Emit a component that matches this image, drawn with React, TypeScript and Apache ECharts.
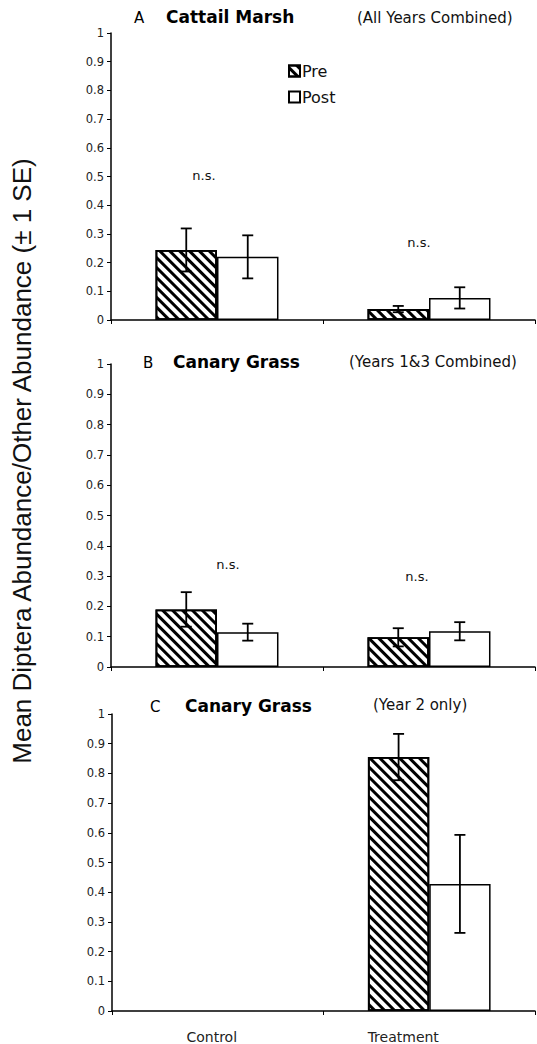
import React, { useEffect, useRef } from "react";
import * as echarts from "echarts";

const categories = ["Control", "Treatment"];

// Panel A - Cattail Marsh (All Years Combined)
const preA = [0.244, 0.038];
const preAErr = [0.075, 0.011];
const postA = [0.22, 0.077];
const postAErr = [0.075, 0.037];

// Panel B - Canary Grass (Years 1&3 Combined)
const preB = [0.19, 0.098];
const preBErr = [0.057, 0.03];
const postB = [0.115, 0.118];
const postBErr = [0.028, 0.03];

// Panel C - Canary Grass (Year 2 only)
const preC: (number | null)[] = [null, 0.855];
const preCErr: (number | null)[] = [null, 0.078];
const postC: (number | null)[] = [null, 0.428];
const postCErr: (number | null)[] = [null, 0.165];

// n.s. annotations: [category index, value height]
const nsA = [[0, 0.505], [1, 0.27]];
const nsB = [[0, 0.337], [1, 0.3]];

const panelLetters = ["A", "B", "C"];
const panelTitles = ["Cattail Marsh", "Canary Grass", "Canary Grass"];
const panelSubtitles = ["(All Years Combined)", "(Years 1&3 Combined)", "(Year 2 only)"];
const yTitle = "Mean Diptera Abundance/Other Abundance (\u00B1 1 SE)";

const FONT = "DejaVu Sans";
const BAR_FRAC = 0.29;

export default function App() {
  const ref = useRef<HTMLDivElement>(null);

  useEffect(() => {
    if (!ref.current) return;
    const chart = echarts.init(ref.current, null, { renderer: "svg" });

    const grids = [
      { left: 111, right: 2, top: 33, height: 287 },
      { left: 111, right: 2, top: 364, height: 303 },
      { left: 112, right: 2, top: 714, height: 297 },
    ];

    const hatch = {
      symbol: "rect",
      symbolSize: 1,
      dashArrayX: [1, 0],
      dashArrayY: [3, 3.2],
      rotation: Math.PI / 4,
      color: "#000",
      backgroundColor: "#fff",
    };

    const preStyle = { color: "#fff", borderColor: "#000", borderWidth: 1.8, decal: hatch };
    const postStyle = { color: "#fff", borderColor: "#000", borderWidth: 1.5 };

    const xAxes = grids.map((_, i) => ({
      type: "category",
      gridIndex: i,
      data: categories,
      boundaryGap: true,
      axisLine: { lineStyle: { color: "#000", width: 1.5 } },
      axisTick: { show: true, length: 4, lineStyle: { color: "#000" } },
      axisLabel:
        i === 2
          ? {
              show: true,
              margin: 19,
              fontFamily: FONT,
              fontSize: 14,
              color: "#222",
              formatter: (v: string) => (v === "Control" ? "{c|" + v + "}" : "{t|" + v + "}"),
              rich: {
                c: { fontFamily: FONT, fontSize: 14, color: "#222", padding: [0, 12, 0, 0] },
                t: { fontFamily: FONT, fontSize: 14, color: "#222", padding: [0, 52, 0, 0] },
              },
            }
          : { show: false },
    }));

    const yAxes = grids.map((_, i) => ({
      type: "value",
      gridIndex: i,
      min: 0,
      max: 1,
      interval: 0.1,
      splitLine: { show: false },
      axisLine: { show: true, lineStyle: { color: "#000", width: 1.5 } },
      axisTick: { show: true, length: 4, lineStyle: { color: "#000" } },
      axisLabel: { fontFamily: FONT, fontSize: 11.5, color: "#222", margin: 7 },
    }));

    const toErr = (vals: (number | null)[], errs: (number | null)[]) =>
      vals
        .map((v, i) => (v == null ? null : [i, v, errs[i]]))
        .filter((d) => d != null) as number[][];

    const errSeries = (idx: number, vals: (number | null)[], errs: (number | null)[], side: number) => ({
      type: "custom",
      xAxisIndex: idx,
      yAxisIndex: idx,
      z: 5,
      silent: true,
      data: toErr(vals, errs),
      encode: { x: 0, y: 1 },
      renderItem: (params: any, api: any) => {
        const cat = api.value(0);
        const v = api.value(1);
        const e = api.value(2);
        const band = api.size([1, 0])[0];
        const dx = (side * band * BAR_FRAC) / 2;
        const top = api.coord([cat, v + e]);
        const bot = api.coord([cat, v - e]);
        const x = top[0] + dx;
        const cap = 5.5;
        const st = { stroke: "#000", lineWidth: 1.8 };
        return {
          type: "group",
          children: [
            { type: "line", shape: { x1: x, y1: top[1], x2: x, y2: bot[1] }, style: st },
            { type: "line", shape: { x1: x - cap, y1: top[1], x2: x + cap, y2: top[1] }, style: st },
            { type: "line", shape: { x1: x - cap, y1: bot[1], x2: x + cap, y2: bot[1] }, style: st },
          ],
        };
      },
    });

    const nsOffsets = [
      [-13, -10],
      [11, -12],
    ];
    const nsSeries = (idx: number, data: number[][], offs: number[]) => ({
      type: "custom",
      xAxisIndex: idx,
      yAxisIndex: idx,
      z: 6,
      silent: true,
      data,
      encode: { x: 0, y: 1 },
      renderItem: (params: any, api: any) => {
        const p = api.coord([api.value(0), api.value(1)]);
        return {
          type: "text",
          x: p[0] + offs[params.dataIndex],
          y: p[1],
          style: {
            text: "n.s.",
            fontFamily: FONT,
            fontSize: 13,
            fill: "#111",
            align: "center",
            verticalAlign: "middle",
          },
        };
      },
    });

    const barSeries = (idx: number, name: string, data: (number | null)[], style: any) => ({
      type: "bar",
      name,
      xAxisIndex: idx,
      yAxisIndex: idx,
      data: data.map((d) => (d == null ? "-" : d)),
      barWidth: BAR_FRAC * 100 + "%",
      barGap: "0%",
      itemStyle: style,
      z: 2,
    });

    const titleTops = [8, 353, 697];
    const letterLefts = [134, 143, 150];
    const titleLefts = [166, 173, 185];
    const subLefts = [357, 349, 373];
    const subTops = [10, 354, 697];

    const titles: any[] = [];
    for (let i = 0; i < 3; i++) {
      titles.push({
        text: panelLetters[i],
        left: letterLefts[i],
        top: titleTops[i] + 2,
        padding: 0,
        textStyle: { fontFamily: FONT, fontSize: 15, fontWeight: "normal", color: "#000" },
      });
      titles.push({
        text: panelTitles[i],
        left: titleLefts[i],
        top: titleTops[i],
        padding: 0,
        textStyle: { fontFamily: FONT, fontSize: 17, fontWeight: "bold", color: "#000" },
      });
      titles.push({
        text: panelSubtitles[i],
        left: subLefts[i],
        top: subTops[i],
        padding: 0,
        textStyle: { fontFamily: FONT, fontSize: 15, fontWeight: "normal", color: "#111" },
      });
    }

    chart.setOption({
      animation: false,
      backgroundColor: "#fff",
      title: titles,
      legend: {
        data: ["Pre", "Post"],
        orient: "vertical",
        left: 288,
        top: 63,
        padding: 0,
        itemWidth: 11,
        itemHeight: 11,
        itemGap: 10,
        selectedMode: false,
        icon: "rect",
        textStyle: { fontFamily: FONT, fontSize: 16, color: "#111", padding: [0, 0, 0, -3] },
      },
      grid: grids,
      xAxis: xAxes,
      yAxis: yAxes,
      graphic: [
        {
          type: "text",
          x: 22,
          y: 461,
          rotation: Math.PI / 2,
          style: {
            text: yTitle,
            fontFamily: "Liberation Sans",
            fontSize: 26,
            fill: "#111",
            align: "center",
            verticalAlign: "middle",
          },
        },
      ],
      series: [
        barSeries(0, "Pre", preA, preStyle),
        barSeries(0, "Post", postA, postStyle),
        barSeries(1, "Pre", preB, preStyle),
        barSeries(1, "Post", postB, postStyle),
        barSeries(2, "Pre", preC, preStyle),
        barSeries(2, "Post", postC, postStyle),
        errSeries(0, preA, preAErr, -1),
        errSeries(0, postA, postAErr, 1),
        errSeries(1, preB, preBErr, -1),
        errSeries(1, postB, postBErr, 1),
        errSeries(2, preC, preCErr, -1),
        errSeries(2, postC, postCErr, 1),
        nsSeries(0, nsA, nsOffsets[0]),
        nsSeries(1, nsB, nsOffsets[1]),
      ],
    });

    return () => chart.dispose();
  }, []);

  return (
    <div
      ref={ref}
      style={{ position: "absolute", left: 0, top: 0, width: 537, height: 1044 }}
    />
  );
}
